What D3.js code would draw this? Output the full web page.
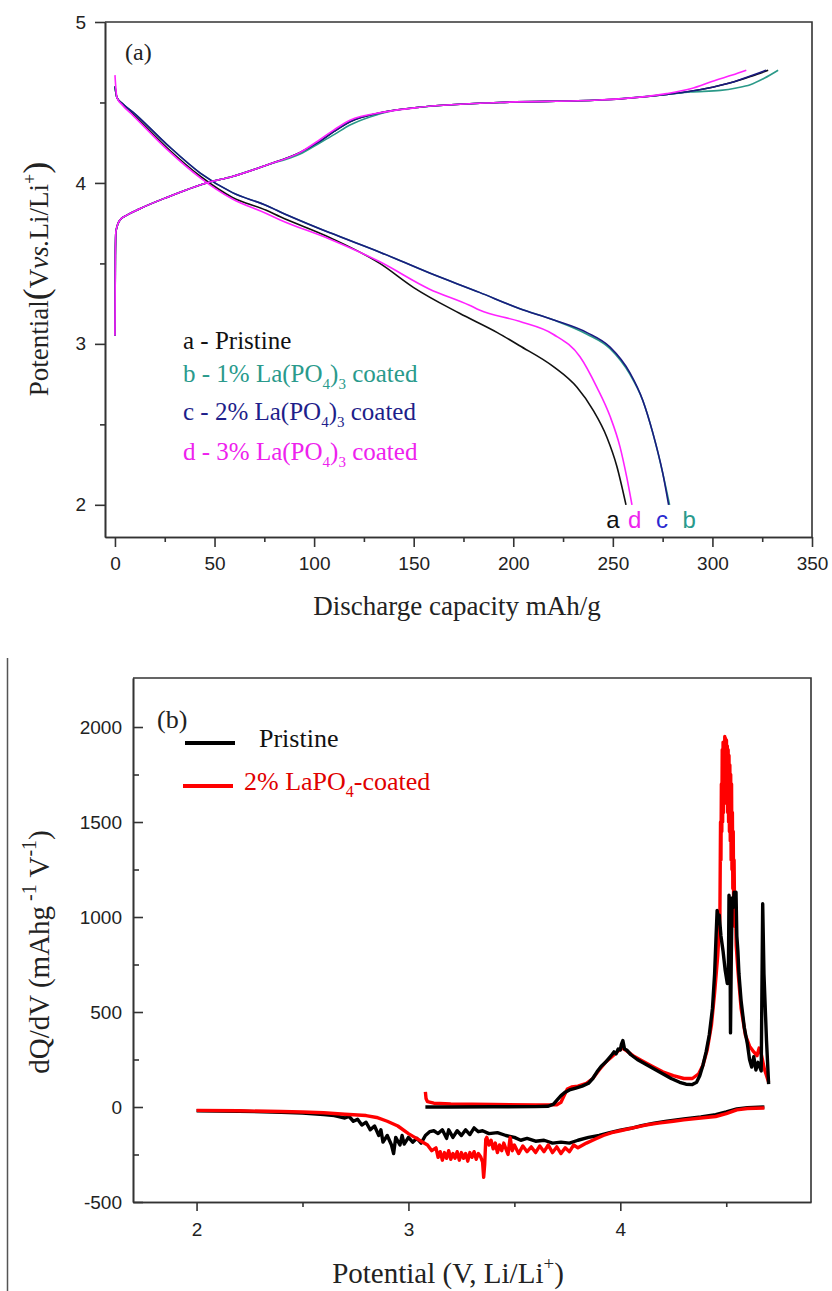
<!DOCTYPE html>
<html>
<head>
<meta charset="utf-8">
<script src="https://cdn.jsdelivr.net/npm/d3@7"></script>
<style>
  body { margin: 0; background: #fff; }
  .axis text { font-family: "Liberation Sans", Arial, sans-serif; font-size: 19px; fill: #222; }
  .axis path, .axis line { stroke: #333; stroke-width: 1.6; }
</style>
</head>
<body>
<script>
// ---- panel (a): charge / discharge curves [capacity mAh/g, potential V]
var chargeA = [[0,3.05],[0.2,3.55],[0.5,3.70],[2.5,3.77],[6,3.80],[12.5,3.84],[26,3.91],[46,4.00],[59,4.04],[76,4.11],[93,4.19],[103,4.26],[110,4.32],[118,4.38],[135,4.44],[153,4.47],[193,4.50],[243,4.515],[277,4.55],[289,4.57],[300,4.595],[310,4.625],[320,4.665],[328,4.70]];
var chargeB = [[0,3.05],[0.2,3.55],[0.5,3.70],[2.5,3.77],[6,3.80],[12.5,3.84],[26,3.91],[46,4.00],[59,4.04],[76,4.11],[93,4.18],[103,4.25],[110,4.30],[118,4.36],[128,4.41],[140,4.45],[153,4.47],[193,4.50],[243,4.515],[277,4.55],[289,4.565],[304,4.575],[312,4.59],[319,4.61],[326,4.65],[333,4.70]];
var chargeC = [[0,3.05],[0.2,3.55],[0.5,3.70],[2.5,3.77],[6,3.80],[12.5,3.84],[26,3.91],[46,4.00],[59,4.04],[76,4.11],[93,4.19],[103,4.26],[110,4.32],[118,4.38],[135,4.44],[153,4.47],[193,4.50],[243,4.515],[277,4.55],[289,4.57],[300,4.595],[310,4.625],[318,4.66],[327,4.70]];
var chargeD = [[0,3.05],[0.2,3.55],[0.5,3.70],[2.5,3.77],[6,3.80],[12.5,3.84],[26,3.91],[46,4.00],[59,4.04],[76,4.11],[93,4.19],[103,4.27],[110,4.33],[118,4.39],[135,4.44],[153,4.47],[193,4.50],[243,4.515],[277,4.555],[289,4.585],[302,4.64],[310,4.67],[317,4.70]];

var dischargeA = [[0,4.60],[1,4.53],[4,4.49],[9,4.43],[26,4.22],[43,4.04],[59,3.91],[76,3.83],[83,3.79],[108,3.66],[133,3.50],[150,3.35],[173,3.19],[192,3.07],[203,2.99],[220,2.86],[232,2.73],[240,2.59],[247,2.42],[252,2.24],[256.6,2.00]];
var dischargeB = [[0,4.60],[1,4.53],[4,4.49],[9,4.44],[26,4.24],[43,4.06],[59,3.94],[76,3.86],[83,3.82],[108,3.69],[133,3.57],[158,3.44],[183,3.32],[203,3.22],[220,3.15],[237,3.06],[248.6,2.97],[258.6,2.81],[265,2.65],[270,2.45],[275,2.20],[278.5,2.00]];
var dischargeC = [[0,4.60],[1,4.53],[4,4.49],[9,4.44],[26,4.24],[43,4.06],[59,3.94],[76,3.86],[83,3.82],[108,3.69],[133,3.57],[158,3.44],[183,3.32],[203,3.22],[220,3.15],[237,3.07],[248.6,2.98],[258.6,2.82],[265,2.65],[270,2.45],[275,2.20],[278,2.00]];
var dischargeD = [[0,4.67],[1,4.53],[4,4.48],[9,4.42],[26,4.21],[43,4.03],[59,3.90],[76,3.81],[83,3.77],[108,3.65],[133,3.51],[158,3.34],[178,3.24],[183,3.21],[203,3.14],[220,3.06],[233.5,2.92],[242,2.73],[248.6,2.55],[253.6,2.36],[257,2.17],[259.6,2.00]];

var capTicks = [0, 50, 100, 150, 200, 250, 300, 350];
var capMinor = [25, 75, 125, 175, 225, 275, 325];
var voltTicks = [2, 3, 4, 5];
var voltMinor = [2.5, 3.5, 4.5];

var colorsA = ["#111111", "#2a9988", "#1a1a80", "#ff22ff"];
var letterColors = ["#111111", "#2a9a8c", "#2b2bd0", "#ee22ee"];
var legendColors = ["#111111", "#2a9a8c", "#1e1e8a", "#ee22ee"];
var endLetters = ["a", "b", "c", "d"];
var endLetterPos = [250, 288.3, 274.7, 261];
var legendA = [
  [["a - Pristine", 0]],
  [["b - 1% La(PO", 0], ["4", 1], [")", 0], ["3", 1], [" coated", 0]],
  [["c - 2% La(PO", 0], ["4", 1], [")", 0], ["3", 1], [" coated", 0]],
  [["d - 3% La(PO", 0], ["4", 1], [")", 0], ["3", 1], [" coated", 0]]
];

// ---- panel (b): dQ/dV [potential V, mAh g-1 V-1]
var pristineCharge = [[3.08,0],[3.2,0],[3.4,1],[3.6,2],[3.66,4],[3.685,15],[3.70,35],[3.72,60],[3.74,78],[3.76,90],[3.79,100],[3.82,110],[3.85,125],[3.87,150],[3.89,185],[3.91,215],[3.93,235],[3.945,255],[3.96,275],[3.97,290],[3.98,280],[3.99,305],[4.00,300],[4.005,330],[4.012,350],[4.02,305],[4.03,300],[4.05,275],[4.08,250],[4.12,225],[4.16,200],[4.20,175],[4.24,150],[4.28,130],[4.31,120],[4.34,118],[4.36,130],[4.375,165],[4.39,220],[4.405,290],[4.42,380],[4.435,520],[4.445,700],[4.452,900],[4.457,1035],[4.462,990],[4.467,1010],[4.475,900],[4.485,820],[4.495,720],[4.505,650],[4.51,700],[4.513,1115],[4.517,1060],[4.52,390],[4.524,800],[4.528,1100],[4.533,1050],[4.537,1130],[4.542,1080],[4.546,1130],[4.55,900],[4.555,820],[4.56,700],[4.57,560],[4.585,420],[4.60,330],[4.61,250],[4.62,210],[4.63,265],[4.64,195],[4.65,235],[4.665,190],[4.672,1070],[4.678,700],[4.69,350],[4.70,120]];
var pristineDischarge = [[2.00,-20],[2.2,-22],[2.4,-28],[2.5,-32],[2.6,-40],[2.65,-45],[2.70,-58],[2.72,-50],[2.74,-75],[2.76,-65],[2.78,-95],[2.80,-80],[2.82,-120],[2.84,-100],[2.86,-150],[2.87,-120],[2.88,-185],[2.90,-150],[2.92,-200],[2.93,-245],[2.94,-160],[2.96,-200],[2.97,-150],[2.98,-195],[3.00,-160],[3.02,-185],[3.04,-165],[3.06,-190],[3.08,-150],[3.10,-130],[3.12,-125],[3.14,-140],[3.16,-120],[3.18,-165],[3.19,-120],[3.21,-160],[3.23,-125],[3.25,-150],[3.27,-120],[3.29,-145],[3.31,-110],[3.33,-130],[3.35,-125],[3.38,-140],[3.42,-135],[3.46,-150],[3.50,-160],[3.53,-175],[3.56,-165],[3.60,-180],[3.64,-175],[3.68,-190],[3.72,-185],[3.76,-190],[3.80,-175],[3.85,-160],[3.90,-150],[3.95,-135],[4.00,-122],[4.05,-112],[4.10,-98],[4.16,-85],[4.22,-74],[4.30,-63],[4.38,-52],[4.45,-40],[4.50,-26],[4.55,-10],[4.60,-4],[4.68,0]];
var coatedCharge = [[3.08,80],[3.083,45],[3.09,28],[3.12,20],[3.2,16],[3.4,13],[3.6,11],[3.70,11],[3.72,25],[3.735,60],[3.75,95],[3.77,105],[3.80,110],[3.84,125],[3.87,150],[3.90,195],[3.93,235],[3.96,265],[3.99,295],[4.01,310],[4.03,295],[4.06,270],[4.10,245],[4.15,215],[4.20,185],[4.25,165],[4.30,150],[4.34,150],[4.37,175],[4.39,220],[4.41,300],[4.43,430],[4.445,600],[4.46,800],[4.47,1000],[4.473,1500],[4.475,1300],[4.477,1700],[4.479,1450],[4.481,1880],[4.483,1500],[4.485,1920],[4.487,1550],[4.489,1900],[4.491,1600],[4.493,1950],[4.495,1600],[4.497,1940],[4.499,1650],[4.501,1930],[4.503,1600],[4.505,1900],[4.507,1550],[4.509,1880],[4.511,1500],[4.513,1850],[4.515,1450],[4.517,1800],[4.519,1400],[4.521,1750],[4.523,1300],[4.525,1700],[4.527,1250],[4.529,1550],[4.531,1150],[4.533,1450],[4.535,1050],[4.537,1300],[4.540,950],[4.543,1100],[4.547,850],[4.555,720],[4.57,520],[4.59,380],[4.61,320],[4.63,290],[4.645,270],[4.655,310],[4.665,280],[4.68,200],[4.70,130]];
var coatedDischarge = [[2.00,-18],[2.2,-20],[2.4,-24],[2.5,-26],[2.6,-30],[2.7,-38],[2.8,-45],[2.85,-55],[2.9,-75],[2.95,-100],[3.00,-140],[3.03,-160],[3.06,-180],[3.09,-200],[3.11,-230],[3.13,-215],[3.14,-265],[3.15,-235],[3.16,-280],[3.17,-240],[3.18,-270],[3.19,-230],[3.20,-275],[3.21,-245],[3.22,-270],[3.23,-235],[3.24,-280],[3.25,-240],[3.26,-270],[3.27,-245],[3.28,-285],[3.29,-240],[3.30,-265],[3.31,-235],[3.32,-275],[3.33,-245],[3.34,-260],[3.35,-290],[3.355,-370],[3.36,-300],[3.365,-170],[3.37,-160],[3.38,-200],[3.39,-175],[3.40,-220],[3.41,-190],[3.42,-240],[3.43,-200],[3.44,-230],[3.45,-190],[3.46,-220],[3.47,-250],[3.48,-160],[3.49,-230],[3.50,-200],[3.52,-245],[3.54,-205],[3.56,-235],[3.58,-210],[3.60,-240],[3.62,-205],[3.64,-235],[3.66,-200],[3.68,-240],[3.70,-210],[3.72,-245],[3.74,-215],[3.76,-235],[3.78,-200],[3.80,-215],[3.84,-190],[3.88,-170],[3.92,-150],[3.96,-135],[4.00,-125],[4.06,-110],[4.12,-95],[4.18,-85],[4.25,-75],[4.30,-68],[4.38,-58],[4.45,-50],[4.50,-35],[4.55,-15],[4.60,-8],[4.68,-5]];

var potTicks = [2, 3, 4];
var potMinor = [2.5, 3.5, 4.5];
var dqTicks = [-500, 0, 500, 1000, 1500, 2000];
var dqMinor = [-250, 250, 750, 1250, 1750];

var serif = '"Liberation Serif", "Times New Roman", serif';
var sans = '"Liberation Sans", Arial, sans-serif';
var plain = function(d) { return String(d); };

var svg = d3.select("body").append("svg")
  .attr("width", 832)
  .attr("height", 1291);

function curve(x, y, data, color, width, smooth) {
  var line = d3.line()
    .x(function(d) { return x(d[0]); })
    .y(function(d) { return y(d[1]); });
  if (smooth) line.curve(d3.curveMonotoneX);
  svg.append("path")
    .datum(data)
    .attr("fill", "none")
    .attr("stroke", color)
    .attr("stroke-width", width)
    .attr("stroke-linejoin", "round")
    .attr("d", line);
}

function frame(x0, y0, x1, y1) {
  svg.append("path")
    .attr("d", "M" + x0 + "," + y0 + "H" + x1 + "V" + y1)
    .attr("fill", "none")
    .attr("stroke", "#333")
    .attr("stroke-width", 1.6);
}

// ================= panel (a)
var xa = d3.scaleLinear().domain([-5, 350]).range([105, 812]);
var ya = d3.scaleLinear().domain([1.8, 5]).range([537, 22]);

svg.append("g").attr("class", "axis")
  .attr("transform", "translate(0,537)")
  .call(d3.axisBottom(xa).tickValues(capTicks).tickFormat(plain).tickSize(10).tickSizeOuter(0).tickPadding(10));
svg.append("g").attr("class", "axis")
  .attr("transform", "translate(0,537)")
  .call(d3.axisBottom(xa).tickValues(capMinor).tickSize(5).tickSizeOuter(0).tickFormat(""));
svg.append("g").attr("class", "axis")
  .attr("transform", "translate(105,0)")
  .call(d3.axisLeft(ya).tickValues(voltTicks).tickFormat(plain).tickSize(10).tickSizeOuter(0).tickPadding(9));
svg.append("g").attr("class", "axis")
  .attr("transform", "translate(105,0)")
  .call(d3.axisLeft(ya).tickValues(voltMinor).tickSize(5).tickSizeOuter(0).tickFormat(""));
frame(105, 22, 812, 537);

var chargeCurves = [chargeA, chargeB, chargeC, chargeD];
var dischargeCurves = [dischargeA, dischargeB, dischargeC, dischargeD];
for (var i = 0; i < 4; i++) {
  curve(xa, ya, dischargeCurves[i], colorsA[i], 1.6, true);
  curve(xa, ya, chargeCurves[i], colorsA[i], 1.6, true);
}

svg.append("text")
  .attr("x", 125).attr("y", 60)
  .style("font-family", serif).style("font-size", "24px").style("fill", "#222")
  .text("(a)");

var legendY = [349, 382, 420, 460];
legendA.forEach(function(parts, i) {
  var t = svg.append("text")
    .attr("x", 183).attr("y", legendY[i])
    .style("font-family", serif).style("font-size", "25px")
    .style("fill", legendColors[i]);
  var shift = 0;
  parts.forEach(function(p) {
    var dy = p[1] ? 7 - shift : -shift;
    shift = p[1] ? 7 : 0;
    t.append("tspan")
      .attr("dy", dy)
      .style("font-size", p[1] ? "15px" : "25px")
      .text(p[0]);
  });
});

endLetters.forEach(function(l, i) {
  svg.append("text")
    .attr("x", xa(endLetterPos[i])).attr("y", 528)
    .attr("text-anchor", "middle")
    .style("font-family", sans).style("font-size", "24px")
    .style("fill", letterColors[i])
    .text(l);
});

var yla = svg.append("text")
  .attr("transform", "translate(48,279) rotate(-90)")
  .attr("text-anchor", "middle")
  .style("font-family", serif).style("font-size", "27px").style("fill", "#222");
yla.append("tspan").text("Potential");
yla.append("tspan").style("font-size", "36px").text("(");
yla.append("tspan").text("V");
yla.append("tspan").style("font-style", "italic").text("vs.");
yla.append("tspan").text("Li/Li");
yla.append("tspan").attr("dy", -12).style("font-size", "18px").text("+");
yla.append("tspan").attr("dy", 12).style("font-size", "36px").text(")");

svg.append("text")
  .attr("x", 457).attr("y", 615)
  .attr("text-anchor", "middle")
  .style("font-family", serif).style("font-size", "27px").style("fill", "#222")
  .text("Discharge capacity mAh/g");

// ================= panel (b)
var xb = d3.scaleLinear().domain([1.7, 4.9]).range([133, 811]);
var yb = d3.scaleLinear().domain([-500, 2258]).range([1202, 678]);

svg.append("line")
  .attr("x1", 7.5).attr("x2", 7.5).attr("y1", 658).attr("y2", 1291)
  .attr("stroke", "#555").attr("stroke-width", 1.5);

svg.append("g").attr("class", "axis")
  .attr("transform", "translate(0,1202)")
  .call(d3.axisBottom(xb).tickValues(potTicks).tickFormat(plain).tickSize(9).tickSizeOuter(0).tickPadding(12));
svg.append("g").attr("class", "axis")
  .attr("transform", "translate(0,1202)")
  .call(d3.axisBottom(xb).tickValues(potMinor).tickSize(5).tickSizeOuter(0).tickFormat(""));
svg.append("g").attr("class", "axis")
  .attr("transform", "translate(133,0)")
  .call(d3.axisLeft(yb).tickValues(dqTicks).tickFormat(plain).tickSize(-10).tickSizeOuter(0).tickPadding(11));
svg.append("g").attr("class", "axis")
  .attr("transform", "translate(133,0)")
  .call(d3.axisLeft(yb).tickValues(dqMinor).tickSize(-6).tickSizeOuter(0).tickFormat(""));
frame(133, 678, 811, 1202);

curve(xb, yb, pristineDischarge, "#000", 3.4, false);
curve(xb, yb, coatedDischarge, "#ff0000", 3.4, false);
curve(xb, yb, coatedCharge, "#ff0000", 3.4, false);
curve(xb, yb, pristineCharge, "#000", 3.4, false);

svg.append("text")
  .attr("x", 157).attr("y", 728)
  .style("font-family", serif).style("font-size", "26px").style("fill", "#222")
  .text("(b)");

svg.append("line")
  .attr("x1", 185).attr("x2", 235).attr("y1", 743).attr("y2", 743)
  .attr("stroke", "#000").attr("stroke-width", 4);
svg.append("text")
  .attr("x", 259).attr("y", 747)
  .style("font-family", serif).style("font-size", "26px").style("fill", "#111")
  .text("Pristine");
svg.append("line")
  .attr("x1", 183).attr("x2", 233).attr("y1", 786).attr("y2", 786)
  .attr("stroke", "#ff0000").attr("stroke-width", 4);
var lb = svg.append("text")
  .attr("x", 244).attr("y", 790)
  .style("font-family", serif).style("font-size", "26px").style("fill", "#e00000");
lb.append("tspan").text("2% LaPO");
lb.append("tspan").attr("dy", 7).style("font-size", "16px").text("4");
lb.append("tspan").attr("dy", -7).text("-coated");

var ylb = svg.append("text")
  .attr("transform", "translate(49,952) rotate(-90)")
  .attr("text-anchor", "middle")
  .style("font-family", serif).style("font-size", "29px").style("fill", "#222");
ylb.append("tspan").text("dQ/dV (mAhg");
ylb.append("tspan").attr("dy", -13).style("font-size", "20px").text(" -1");
ylb.append("tspan").attr("dy", 13).text(" V");
ylb.append("tspan").attr("dy", -13).style("font-size", "20px").text("-1");
ylb.append("tspan").attr("dy", 13).text(")");

var xlb = svg.append("text")
  .attr("x", 448).attr("y", 1283)
  .attr("text-anchor", "middle")
  .style("font-family", serif).style("font-size", "29px").style("fill", "#222");
xlb.append("tspan").text("Potential (V, Li/Li");
xlb.append("tspan").attr("dy", -13).style("font-size", "19px").text("+");
xlb.append("tspan").attr("dy", 13).text(")");
</script>
</body>
</html>
